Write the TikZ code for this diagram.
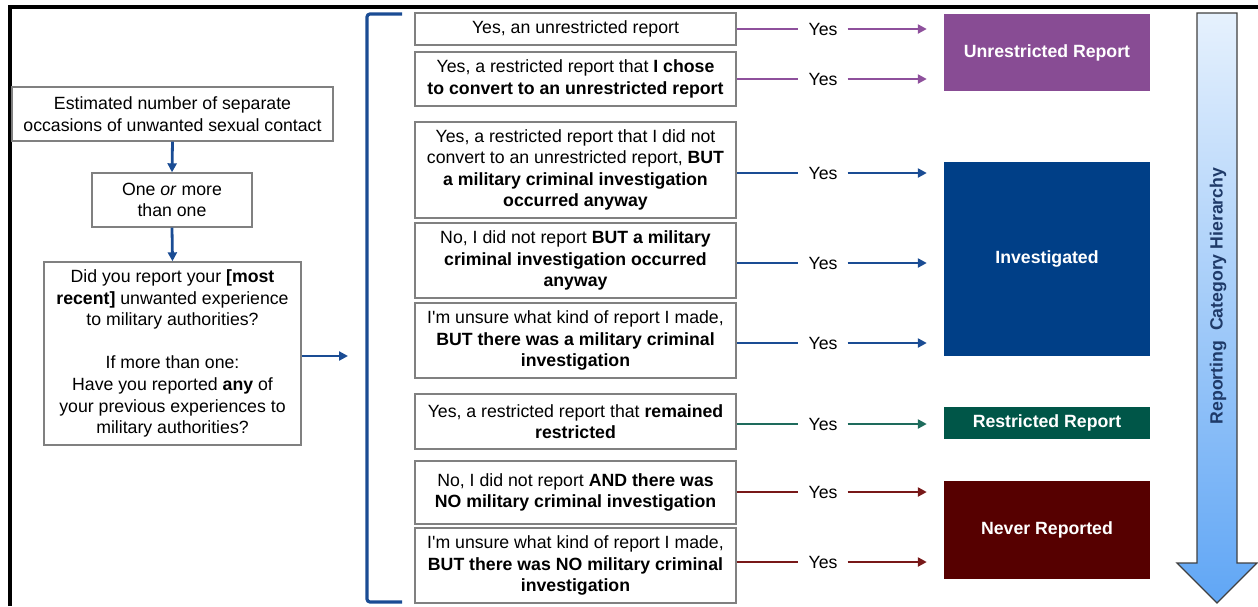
\documentclass[tikz,border=0pt]{standalone}
\usepackage{fontspec}
\setmainfont{Liberation Sans}
\usetikzlibrary{arrows.meta,calc}
\definecolor{purp}{RGB}{136,76,148}
\definecolor{purpln}{RGB}{142,80,156}
\definecolor{navyfill}{RGB}{0,63,135}
\definecolor{navyln}{RGB}{26,76,148}
\definecolor{grnfill}{RGB}{0,86,72}
\definecolor{grnln}{RGB}{30,107,92}
\definecolor{redfill}{RGB}{86,0,0}
\definecolor{redln}{RGB}{120,24,24}
\definecolor{boxln}{RGB}{128,128,128}
\definecolor{hiertxt}{RGB}{31,58,104}
\tikzset{
  qbox/.style={draw=boxln, line width=1.4pt, fill=white, align=center, inner sep=2pt,
    font=\fontsize{17.7pt}{21.6pt}\selectfont},
  catbox/.style={draw=none, text=white, inner sep=0pt,
    font=\fontsize{17.7pt}{21.6pt}\selectfont\bfseries},
  yeslbl/.style={inner xsep=10pt, inner ysep=4pt, font=\fontsize{17.7pt}{21.6pt}\selectfont},
  flowarr/.style={line width=2.8pt, -{Triangle[length=9pt,width=9pt]}},
  link/.style={line width=2.8pt}
}
\begin{document}
\begin{tikzpicture}[x=1pt,y=-1pt]
		%%%%% START %%%%%
		\useasboundingbox (0,0) rectangle (1258,606);
		
		% frame
		\draw[line width=3.5pt] (10,606) -- (10,7) -- (1258,7);
		
		% left column
		\node[qbox, minimum width=321pt, minimum height=54pt] (est) at (172.5,114)
		  {Estimated number of separate\\ occasions of unwanted sexual contact};
		\node[qbox, minimum width=160pt, minimum height=54pt] (one) at (172,200)
		  {One \emph{or} more\\ than one};
		\node[qbox, minimum width=257pt, minimum height=183pt] (didrep) at (172.5,353.5)
		  {Did you report your \textbf{[most}\\ \textbf{recent]} unwanted experience\\ to military authorities?\\[21.6pt]
		   If more than one:\\ Have you reported \textbf{any} of\\ your previous experiences to\\ military authorities?};
		\coordinate (brk) at (348,356);
		
		\draw[flowarr, navyln] (est.south) -- (one.north);
		\draw[flowarr, navyln] (one.south) -- (didrep.north);
		\draw[flowarr, navyln] (didrep.east |- brk) -- (brk);
		
		% bracket
		\draw[navyln, line width=3.2pt, rounded corners=3pt] (402,14) -- (367,14) -- (367,602) -- (402,602);
		
		% answers
		\node[qbox, minimum width=321pt, minimum height=32pt] (o1) at (575.5,29)
		  {Yes, an unrestricted report};
		\node[qbox, minimum width=321pt, minimum height=54pt] (o2) at (575.5,79)
		  {Yes, a restricted report that \textbf{I chose}\\ \textbf{to convert to an unrestricted report}};
		\node[qbox, minimum width=321pt, minimum height=96pt] (o3) at (575.5,170)
		  {Yes, a restricted report that I did not\\ convert to an unrestricted report, \textbf{BUT}\\
		   \textbf{a military criminal investigation}\\ \textbf{occurred anyway}};
		\node[qbox, minimum width=321pt, minimum height=75pt] (o4) at (575.5,260.5)
		  {No, I did not report \textbf{BUT a military}\\ \textbf{criminal investigation occurred}\\ \textbf{anyway}};
		\node[qbox, minimum width=321pt, minimum height=75pt] (o5) at (575.5,340.5)
		  {I\textquotesingle m unsure what kind of report I made,\\ \textbf{BUT there was a military criminal}\\ \textbf{investigation}};
		\node[qbox, minimum width=321pt, minimum height=55pt] (o6) at (575.5,421.5)
		  {Yes, a restricted report that \textbf{remained}\\ \textbf{restricted}};
		\node[qbox, minimum width=321pt, minimum height=63pt] (o7) at (575.5,492.5)
		  {No, I did not report \textbf{AND there was}\\ \textbf{NO military criminal investigation}};
		\node[qbox, minimum width=321pt, minimum height=75pt] (o8) at (575.5,565.5)
		  {I\textquotesingle m unsure what kind of report I made,\\ \textbf{BUT there was NO military criminal}\\ \textbf{investigation}};
		
		% categories
		\node[catbox, fill=purp, minimum width=206pt, minimum height=77pt] (unres) at (1047,52.5) {Unrestricted Report};
		\node[catbox, fill=navyfill, minimum width=206pt, minimum height=194pt] (invest) at (1047,259) {Investigated};
		\node[catbox, fill=grnfill, minimum width=206pt, minimum height=32pt] (restr) at (1047,423) {Restricted Report};
		\node[catbox, fill=redfill, minimum width=206pt, minimum height=98pt] (never) at (1047,530) {Never Reported};
		
		% yes labels
		\node[yeslbl] (y1) at (823,29) {Yes};
		\node[yeslbl] (y2) at (823,79) {Yes};
		\node[yeslbl] (y3) at (823,173) {Yes};
		\node[yeslbl] (y4) at (823,263) {Yes};
		\node[yeslbl] (y5) at (823,343) {Yes};
		\node[yeslbl] (y6) at (823,424) {Yes};
		\node[yeslbl] (y7) at (823,492) {Yes};
		\node[yeslbl] (y8) at (823,562) {Yes};
		
		\draw[link, purpln] (o1.east |- y1) -- (y1.west);
		\draw[link, purpln] (o2.east |- y2) -- (y2.west);
		\draw[link, navyln] (o3.east |- y3) -- (y3.west);
		\draw[link, navyln] (o4.east |- y4) -- (y4.west);
		\draw[link, navyln] (o5.east |- y5) -- (y5.west);
		\draw[link, grnln] (o6.east |- y6) -- (y6.west);
		\draw[link, redln] (o7.east |- y7) -- (y7.west);
		\draw[link, redln] (o8.east |- y8) -- (y8.west);
		
		\draw[flowarr, purpln, shorten >=17pt] (y1.east) -- (y1.east -| unres.west);
		\draw[flowarr, purpln, shorten >=17pt] (y2.east) -- (y2.east -| unres.west);
		\draw[flowarr, navyln, shorten >=17pt] (y3.east) -- (y3.east -| invest.west);
		\draw[flowarr, navyln, shorten >=17pt] (y4.east) -- (y4.east -| invest.west);
		\draw[flowarr, navyln, shorten >=17pt] (y5.east) -- (y5.east -| invest.west);
		\draw[flowarr, grnln, shorten >=17pt] (y6.east) -- (y6.east -| restr.west);
		\draw[flowarr, redln, shorten >=17pt] (y7.east) -- (y7.east -| never.west);
		\draw[flowarr, redln, shorten >=17pt] (y8.east) -- (y8.east -| never.west);
		
		% hierarchy arrow
		\draw[draw={rgb,255:red,64;green,64;blue,64}, line width=1.3pt, top color={rgb,255:red,230;green,241;blue,253},
		  bottom color={rgb,255:red,96;green,166;blue,245}]
		  (1197,13) -- (1237,13) -- (1237,563) -- (1257,563) -- (1217,603) -- (1177,563) -- (1197,563) -- cycle;
		\node[rotate=90, text=hiertxt, font=\fontsize{17.7pt}{21.6pt}\selectfont\bfseries] (hier) at (1218,296)
		  {Reporting\ \ Category Hierarchy};
		
		%%%%% END %%%%%
\end{tikzpicture}
\end{document}
